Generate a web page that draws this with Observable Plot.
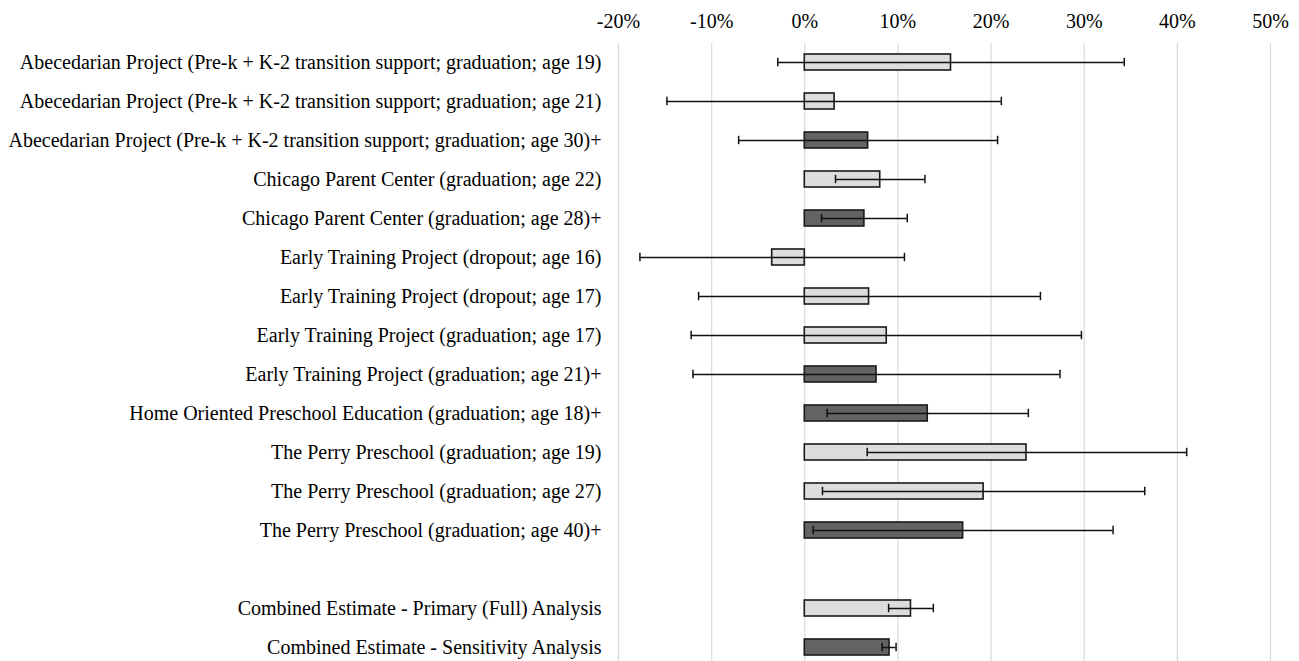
<!DOCTYPE html>
<html>
<head>
<meta charset="utf-8">
<script src="https://cdn.jsdelivr.net/npm/d3@7"></script>
<script src="https://cdn.jsdelivr.net/npm/@observablehq/plot@0.6"></script>
<style>
  html, body { margin: 0; padding: 0; background: #fff; }
  #chart svg { display: block; }
</style>
</head>
<body>
<div id="chart"></div>
<script>
const studies = [
  "Abecedarian Project (Pre-k + K-2 transition support; graduation; age 19)",
  "Abecedarian Project (Pre-k + K-2 transition support; graduation; age 21)",
  "Abecedarian Project (Pre-k + K-2 transition support; graduation; age 30)+",
  "Chicago Parent Center (graduation; age 22)",
  "Chicago Parent Center (graduation; age 28)+",
  "Early Training Project (dropout; age 16)",
  "Early Training Project (dropout; age 17)",
  "Early Training Project (graduation; age 17)",
  "Early Training Project (graduation; age 21)+",
  "Home Oriented Preschool Education (graduation; age 18)+",
  "The Perry Preschool (graduation; age 19)",
  "The Perry Preschool (graduation; age 27)",
  "The Perry Preschool (graduation; age 40)+",
  "Combined Estimate - Primary (Full) Analysis",
  "Combined Estimate - Sensitivity Analysis"
];
const estimates = [0.157, 0.032, 0.068, 0.081, 0.064, -0.035, 0.069, 0.088, 0.077, 0.132, 0.238, 0.192, 0.170, 0.114, 0.091];
const lower     = [-0.029, -0.148, -0.071, 0.033, 0.018, -0.177, -0.114, -0.122, -0.120, 0.024, 0.067, 0.019, 0.009, 0.090, 0.083];
const upper     = [0.343, 0.211, 0.207, 0.129, 0.110, 0.107, 0.253, 0.297, 0.274, 0.240, 0.410, 0.365, 0.331, 0.138, 0.098];
const analysis  = ["primary","primary","sensitivity","primary","sensitivity","primary","primary","primary","sensitivity","sensitivity","primary","primary","sensitivity","primary","sensitivity"];
const xTicks = [-0.2, -0.1, 0, 0.1, 0.2, 0.3, 0.4, 0.5];

const spacer = " ";
const yDomain = [...studies.slice(0, 13), spacer, ...studies.slice(13)];

const rows = studies.map((s, i) => ({
  study: s, est: estimates[i], lo: lower[i], hi: upper[i], type: analysis[i]
}));

const font = "'Liberation Serif', 'Times New Roman', serif";
const pct = d => `${Math.round(d * 100)}%`;

const chart = Plot.plot({
  width: 1299,
  height: 661,
  marginLeft: 618,
  marginRight: 29,
  marginTop: 43,
  marginBottom: 0,
  style: { fontFamily: font, fontSize: "20px", color: "#000", background: "#fff" },
  x: { domain: [-0.2, 0.5] },
  y: { domain: yDomain, range: [42.5, 666.5], paddingInner: 0.6, paddingOuter: 0.3 },
  color: { domain: ["primary", "sensitivity"], range: ["#dcdddf", "#636363"] },
  marks: [
    Plot.gridX(xTicks, { stroke: "#dadada", strokeOpacity: 1, strokeWidth: 1.2 }),
    Plot.axisX({ anchor: "top", ticks: xTicks, tickFormat: pct, tickSize: 0, tickPadding: 16, label: null, fontSize: 20 }),
    Plot.axisY({ tickSize: 0, tickPadding: 17, label: null, fontSize: 20 }),
    Plot.barX(rows, { y: "study", x1: 0, x2: "est", fill: "type", stroke: "#1a1a1a", strokeWidth: 1.6 }),
    Plot.ruleY(rows, { y: "study", x1: "lo", x2: "hi", stroke: "#111", strokeWidth: 1.5 }),
    Plot.tickX(rows, { y: "study", x: "lo", stroke: "#111", strokeWidth: 1.5, insetTop: 3.8, insetBottom: 3.8 }),
    Plot.tickX(rows, { y: "study", x: "hi", stroke: "#111", strokeWidth: 1.5, insetTop: 3.8, insetBottom: 3.8 })
  ]
});

document.getElementById("chart").appendChild(chart);
</script>
</body>
</html>
